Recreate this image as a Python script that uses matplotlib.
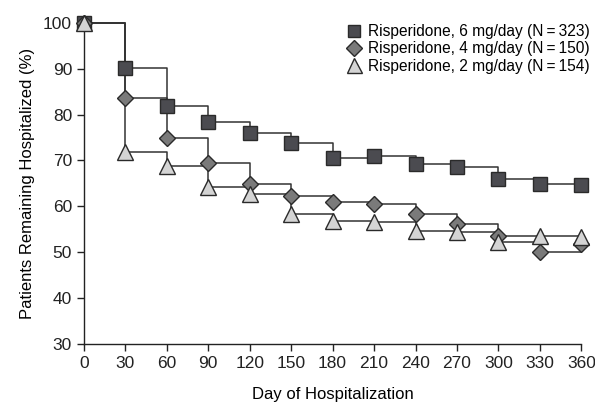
import matplotlib
matplotlib.use("Agg")
import matplotlib.pyplot as plt

plt.rcParams['font.family'] = ['Liberation Sans', 'DejaVu Sans']

days = [0, 30, 60, 90, 120, 150, 180, 210, 240, 270, 300, 330, 360]

dose6 = [100, 90.2, 81.8, 78.3, 75.9, 73.8, 70.5, 70.9, 69.2, 68.5, 65.9, 64.9, 64.6]
dose4 = [100, 83.7, 74.8, 69.4, 64.9, 62.3, 60.9, 60.6, 58.3, 56.2, 53.6, 50.0, 51.8]
dose2 = [100, 71.8, 68.8, 64.2, 62.7, 58.4, 56.9, 56.6, 54.7, 54.4, 52.3, 53.6, 53.4]

labels = ["Risperidone, 6 mg/day (N\u2009=\u2009323)",
          "Risperidone, 4 mg/day (N\u2009=\u2009150)",
          "Risperidone, 2 mg/day (N\u2009=\u2009154)"]

fig = plt.figure(figsize=(5.95, 4.08), dpi=100)
ax = fig.add_axes([0.141, 0.157, 0.836, 0.787])

series = [
    (dose6, 's', '#4b4b50', 9.5),
    (dose4, 'D', '#7a7a7a', 8.5),
    (dose2, '^', '#d4d4d4', 12),
]

line_col = '#333333'
for (vals, mk, fc, ms), lab in zip(series, labels):
    ax.step(days, vals, where='post', color=line_col, lw=1.1, clip_on=False)
    ax.plot(days, vals, ls='none', marker=mk, ms=ms, mfc=fc, mec='#2a2a2a',
            mew=1.0, clip_on=False, label=lab, zorder=3)

ax.set_xlim(0, 360)
ax.set_ylim(30, 100)
ax.set_xticks(days)
ax.set_yticks(range(30, 101, 10))
ax.spines['top'].set_visible(False)
ax.spines['right'].set_visible(False)
for s in ['left', 'bottom']:
    ax.spines[s].set_color('#222222')
    ax.spines[s].set_linewidth(1.0)
ax.tick_params(direction='out', length=5, width=1.0, labelsize=12.5, colors='#222222')

ax.set_xlabel("Day of Hospitalization", fontsize=12, labelpad=12)
ax.set_ylabel("Patients Remaining Hospitalized (%)", fontsize=12, labelpad=6)

ax.legend(loc='upper left', bbox_to_anchor=(345 / 595, 1 - 24 / 408),
          bbox_transform=fig.transFigure, frameon=False, borderpad=0,
          borderaxespad=0, fontsize=11.2, handletextpad=0.3,
          labelspacing=0.15, markerscale=0.9, handlelength=1.2)

fig.savefig("out.png", dpi=100)
